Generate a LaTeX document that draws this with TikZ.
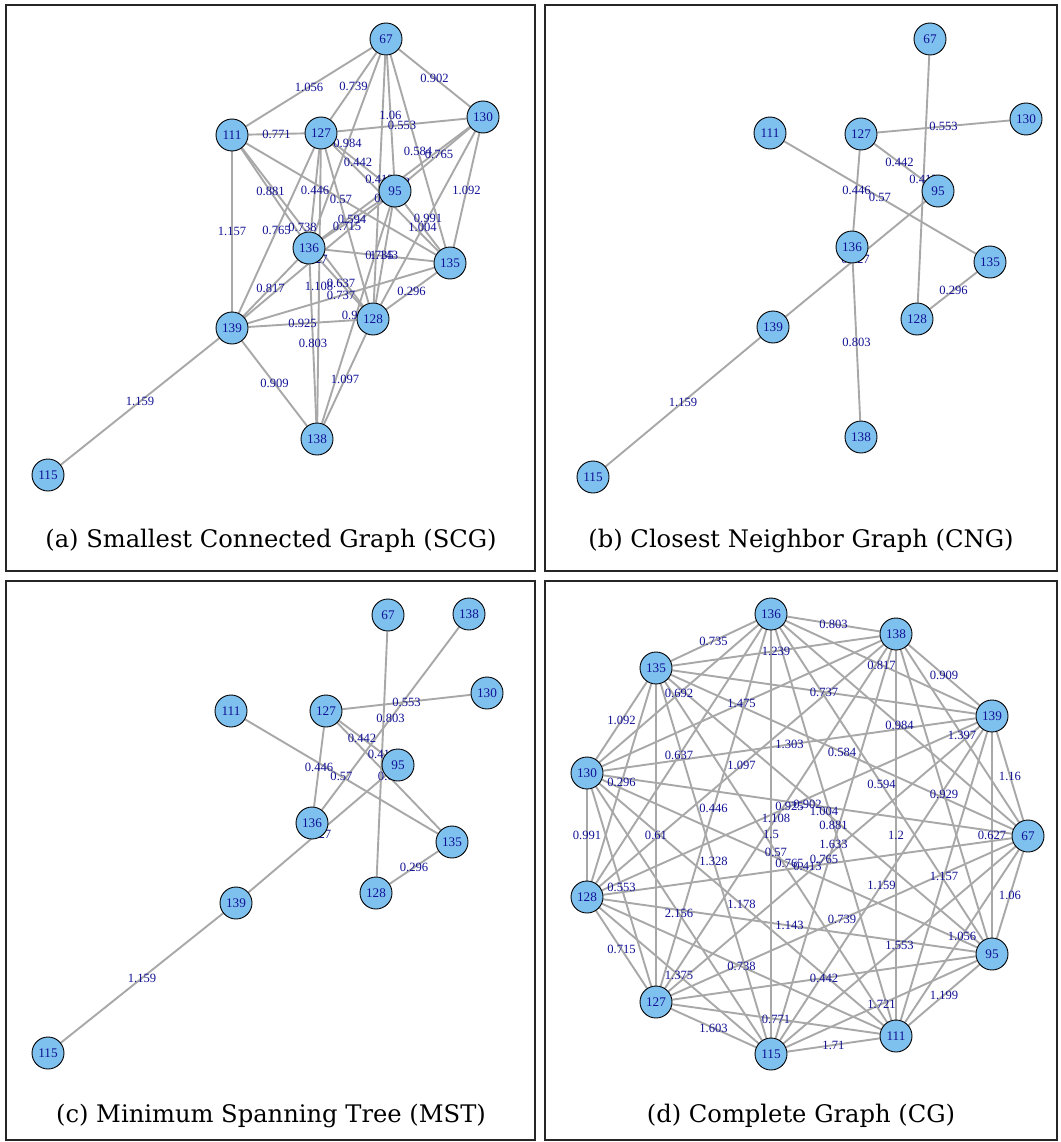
\documentclass[tikz,border=0pt]{standalone}
\usepackage{fontspec}
\newfontfamily\labfamily{Liberation Serif}
\newfontfamily\capfamily{DejaVu Serif}
\pgfdeclarelayer{paper}
\pgfdeclarelayer{edgelayer}
\pgfdeclarelayer{labellayer}
\pgfsetlayers{paper,edgelayer,labellayer,main}
\definecolor{nodeblue}{RGB}{126,192,238}
\definecolor{labblue}{RGB}{18,18,150}
\definecolor{edgegray}{RGB}{168,168,168}
\newcommand\labfont{\labfamily\fontsize{12.6}{13}\selectfont}
\newcommand\vtxfont{\labfamily\fontsize{13.2}{14}\selectfont}
\newcommand\capfont{\capfamily\fontsize{24.2}{27}\selectfont}
% edges of one panel: first the lines, then their weights, both under the vertices
\newcommand\drawedges[2]{%
  \begin{pgfonlayer}{edgelayer}
    \foreach \u/\v/\w in {#2} \draw[edge] (#1\u) -- (#1\v);
  \end{pgfonlayer}
  \begin{pgfonlayer}{labellayer}
    \foreach \u/\v/\w in {#2} \path (#1\u) -- node[elab] {\w} (#1\v);
  \end{pgfonlayer}}
\tikzset{
  vtx/.style={circle, draw=black, line width=0.9pt, fill=nodeblue,
    minimum size=32pt, inner sep=0pt, font=\vtxfont, text=labblue},
  edge/.style={draw=edgegray, line width=1.9pt},
  elab/.style={font=\labfont, text=labblue, inner sep=0pt},
  panel/.style={draw=black!85, line width=1.3pt},
  caption/.style={font=\capfont, anchor=base, inner sep=0pt}
}
\begin{document}
\begin{tikzpicture}[x=1pt,y=-1pt]
\useasboundingbox (0,0) rectangle (1060,1142);
\begin{pgfonlayer}{paper}
  \fill[white] (0,0) rectangle (1060,1142);
\end{pgfonlayer}

% panel frames and captions
\draw[panel] (6,5) rectangle (535,571);
\draw[panel] (545,5) rectangle (1057,571);
\draw[panel] (6,581) rectangle (535,1140);
\draw[panel] (545,581) rectangle (1057,1140);
\node[caption] (capa) at (271,547) {(a) Smallest Connected Graph (SCG)};
\node[caption] (capb) at (801,547) {(b) Closest Neighbor Graph (CNG)};
\node[caption] (capc) at (271,1122) {(c) Minimum Spanning Tree (MST)};
\node[caption] (capd) at (801,1122) {(d) Complete Graph (CG)};

% (a) smallest connected graph
\foreach \n/\x/\y in {67/386/39, 130/483/117, 111/232/135, 127/321/133,
  95/395/191, 136/309/248, 135/450/263, 139/232/328, 128/373/319,
  138/317/439, 115/48/475}
  \node[vtx] (a\n) at (\x,\y) {\n};
\drawedges{a}{67/136/0.984, 67/135/0.584, 67/130/0.902, 67/128/0.413,
  67/127/0.739, 67/111/1.056, 67/95/1.06,
  139/138/0.909, 139/136/0.817, 139/135/0.737, 139/128/0.925,
  139/127/0.765, 139/115/1.159, 139/111/1.157, 139/95/0.627,
  138/136/0.803, 138/128/1.097, 138/127/1.108, 138/95/0.929,
  136/135/0.735, 136/130/0.692, 136/128/0.637, 136/127/0.446,
  136/111/0.881, 136/95/0.594,
  135/130/1.092, 135/128/0.296, 135/127/0.61, 135/111/0.57, 135/95/1.004,
  130/128/0.991, 130/127/0.553, 130/95/0.765,
  128/127/0.715, 128/111/0.738, 128/95/1.143,
  127/111/0.771, 127/95/0.442}

% (b) closest neighbor graph
\foreach \n/\x/\y in {67/930/39, 130/1026/119, 111/770/133, 127/861/134,
  95/938/191, 136/852/247, 135/990/262, 128/917/319, 139/773/327,
  138/861/437, 115/593/477}
  \node[vtx] (b\n) at (\x,\y) {\n};
\drawedges{b}{67/128/0.413, 127/130/0.553, 127/95/0.442, 111/135/0.57,
  127/136/0.446, 139/95/0.627, 135/128/0.296, 136/138/0.803, 139/115/1.159}

% (c) minimum spanning tree
\foreach \n/\x/\y in {67/388/615, 138/469/614, 130/487/693, 111/231/711,
  127/326/711, 95/398/765, 136/312/823, 135/452/842, 128/376/893,
  139/236/903, 115/48/1053}
  \node[vtx] (c\n) at (\x,\y) {\n};
\drawedges{c}{67/128/0.413, 138/136/0.803, 127/130/0.553, 111/135/0.57,
  127/136/0.446, 127/95/0.442, 127/135/0.61, 139/95/0.627, 135/128/0.296,
  139/115/1.159}

% (d) complete graph on a circle
\foreach \n/\x/\y in {67/1028/836, 139/992/716, 138/896/634, 136/771/614,
  135/656/668, 130/587/773, 128/587/897, 127/656/1002, 115/771/1054,
  111/896/1036, 95/992/954}
  \node[vtx] (d\n) at (\x,\y) {\n};
\drawedges{d}{67/139/1.16, 67/138/1.397, 67/136/0.984, 67/135/0.584,
  67/130/0.902, 67/128/0.413, 67/127/0.739, 67/115/1.553, 67/111/1.056,
  67/95/1.06,
  139/138/0.909, 139/136/0.817, 139/135/0.737, 139/130/1.303,
  139/128/0.925, 139/127/0.765, 139/115/1.159, 139/111/1.157, 139/95/0.627,
  138/136/0.803, 138/135/1.239, 138/130/1.475, 138/128/1.097,
  138/127/1.108, 138/115/1.633, 138/111/1.2, 138/95/0.929,
  136/135/0.735, 136/130/0.692, 136/128/0.637, 136/127/0.446,
  136/115/1.5, 136/111/0.881, 136/95/0.594,
  135/130/1.092, 135/128/0.296, 135/127/0.61, 135/115/1.328,
  135/111/0.57, 135/95/1.004,
  130/128/0.991, 130/127/0.553, 130/115/2.156, 130/111/1.178, 130/95/0.765,
  128/127/0.715, 128/115/1.375, 128/111/0.738, 128/95/1.143,
  127/115/1.603, 127/111/0.771, 127/95/0.442,
  115/111/1.71, 115/95/1.721,
  111/95/1.199}
\end{tikzpicture}
\end{document}
